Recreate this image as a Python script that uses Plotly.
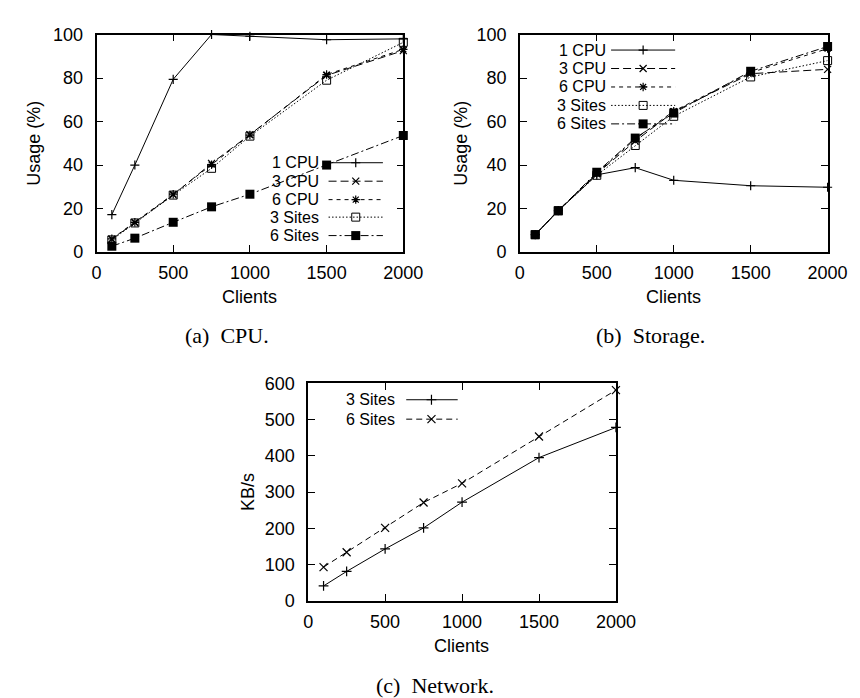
import plotly.graph_objects as go

W, H = 860, 698

clients = [100, 250, 500, 750, 1000, 1500, 2000]

# (a) CPU usage (%)
cpu_1cpu = [17.2, 40.0, 79.4, 100.0, 99.2, 97.6, 98.0]
cpu_3cpu = [5.9, 13.5, 26.3, 40.8, 54.0, 81.2, 92.6]
cpu_6cpu = [6.1, 13.7, 26.6, 40.2, 53.8, 81.6, 93.2]
cpu_3sites = [5.6, 13.4, 26.2, 38.5, 53.3, 79.0, 96.4]
cpu_6sites = [2.7, 6.4, 13.7, 20.8, 26.6, 40.0, 53.6]

# (b) Storage usage (%)
sto_1cpu = [8.0, 19.0, 35.5, 38.8, 33.0, 30.5, 29.8]
sto_3cpu = [8.0, 19.2, 36.0, 51.0, 64.5, 82.0, 84.0]
sto_6cpu = [8.0, 19.2, 36.2, 52.0, 64.8, 82.5, 93.5]
sto_3sites = [8.0, 19.0, 35.3, 49.0, 62.4, 80.5, 88.0]
sto_6sites = [8.0, 19.0, 36.7, 52.4, 63.9, 83.1, 94.5]

# (c) Network (KB/s)
net_3sites = [41, 81, 143, 201, 272, 395, 478]
net_6sites = [93, 134, 201, 271, 324, 453, 581]

series_names = ["1 CPU", "3 CPU", "6 CPU", "3 Sites", "6 Sites"]
net_names = ["3 Sites", "6 Sites"]

x_ticks = [0, 500, 1000, 1500, 2000]
pct_ticks = [0, 20, 40, 60, 80, 100]
net_ticks = [0, 100, 200, 300, 400, 500, 600]

# styles
styles5 = [
    dict(dash="solid", symbol="cross-thin", size=6.5, lw=1.2),
    dict(dash="8px,4px", symbol="x-thin", size=7, lw=1.2),
    dict(dash="4px,4px", symbol="asterisk", size=7, lw=1.2),
    dict(dash="1.5px,2px", symbol="square-open", size=8, lw=1.0),
    dict(dash="8px,3px,2px,3px", symbol="square", size=9, lw=0),
]
styles_net = [
    dict(dash="solid", symbol="cross-thin", size=7, lw=1.2),
    dict(dash="6px,4px", symbol="x-thin", size=8, lw=1.2),
]

SANS = "Liberation Sans, Arial, sans-serif"
SERIF = "Liberation Serif, Times New Roman, serif"
FS = 18
LFS = 16

fig = go.Figure()


def add_series(xref, yref, ys, st, name):
    fig.add_trace(go.Scatter(
        x=clients, y=ys, name=name, mode="lines+markers",
        xaxis=xref, yaxis=yref, showlegend=False, cliponaxis=False,
        line=dict(color="black", width=1, dash=st["dash"]),
        marker=dict(symbol=st["symbol"], size=st["size"], color="black",
                    line=dict(color="black", width=st["lw"])),
    ))


for ys, st, nm in zip([cpu_1cpu, cpu_3cpu, cpu_6cpu, cpu_3sites, cpu_6sites], styles5, series_names):
    add_series("x", "y", ys, st, nm)
for ys, st, nm in zip([sto_1cpu, sto_3cpu, sto_6cpu, sto_3sites, sto_6sites], styles5, series_names):
    add_series("x2", "y2", ys, st, nm)
for ys, st, nm in zip([net_3sites, net_6sites], styles_net, net_names):
    add_series("x3", "y3", ys, st, nm)


def px_dom(a, b):
    return [a / W, b / W]


def py_dom(top, bottom):
    return [1 - bottom / H, 1 - top / H]


axis_common = dict(
    showline=True, linecolor="black", linewidth=1.5, mirror="allticks",
    ticks="inside", ticklen=7, tickwidth=1.2, tickcolor="black",
    showgrid=False, zeroline=False,
    tickfont=dict(family=SANS, size=FS, color="black"),
)

fig.update_layout(
    xaxis=dict(domain=px_dom(86, 402), range=[0, 2000], tickvals=x_ticks,
               anchor="y", ticklabelstandoff=4, **axis_common),
    yaxis=dict(domain=py_dom(17, 241), range=[0, 100], tickvals=pct_ticks,
               anchor="x", ticklabelstandoff=8, **axis_common),
    xaxis2=dict(domain=px_dom(522, 839), range=[0, 2000], tickvals=x_ticks,
                anchor="y2", ticklabelstandoff=4, **axis_common),
    yaxis2=dict(domain=py_dom(17, 241), range=[0, 100], tickvals=pct_ticks,
                anchor="x2", ticklabelstandoff=8, **axis_common),
    xaxis3=dict(domain=px_dom(304, 621), range=[0, 2000], tickvals=x_ticks,
                anchor="y3", ticklabelstandoff=4, **axis_common),
    yaxis3=dict(domain=py_dom(376, 600), range=[0, 600], tickvals=net_ticks,
                anchor="x3", ticklabelstandoff=8, **axis_common),
    xaxis4=dict(domain=[0, 1], range=[0, W], visible=False, anchor="y4"),
    yaxis4=dict(domain=[0, 1], range=[H, 0], visible=False, anchor="x4"),
)

annotations = []

# custom gnuplot-style legends: text on the left, sample on the right
def add_legend(names, styles, text_right, x0, x1, xm, rows):
    for nm, st, yy in zip(names, styles, rows):
        annotations.append(dict(
            x=text_right, y=yy, xref="x4", yref="y4", text=nm, showarrow=False,
            xanchor="right", yanchor="middle", borderpad=0,
            font=dict(family=SANS, size=LFS, color="black")))
        fig.add_trace(go.Scatter(
            x=[x0, x1], y=[yy, yy], mode="lines", xaxis="x4", yaxis="y4",
            showlegend=False, hoverinfo="skip", cliponaxis=False,
            line=dict(color="black", width=1, dash=st["dash"])))
        fig.add_trace(go.Scatter(
            x=[xm], y=[yy], mode="markers", xaxis="x4", yaxis="y4",
            showlegend=False, hoverinfo="skip", cliponaxis=False,
            marker=dict(symbol=st["symbol"], size=st["size"], color="black",
                        line=dict(color="black", width=st["lw"]))))


add_legend(series_names, styles5, 316, 325, 381, 353, [149, 168, 187, 205, 224])
add_legend(series_names, styles5, 612, 616, 682, 649, [33, 52, 71, 90, 109])
add_legend(net_names, styles_net, 394, 405, 458, 431, [393, 413])

# axis titles
def text(x, y, s, size=FS, fam=SANS, angle=0):
    annotations.append(dict(
        x=x, y=y, xref="x4", yref="y4", text=s, showarrow=False,
        xanchor="center", yanchor="middle", textangle=angle,
        font=dict(family=fam, size=size, color="black")))


text(244, 287, "Clients")
text(680, 287, "Clients")
text(462, 647, "Clients")
text(22, 129, "Usage (%)", angle=-90)
text(462, 129, "Usage (%)", angle=-90)
text(242, 488, "KB/s", angle=-90)

# captions
text(220, 327, "(a)\u00a0\u00a0CPU.", size=22, fam=SERIF)
text(657, 327, "(b)\u00a0\u00a0Storage.", size=22, fam=SERIF)
text(435, 687, "(c)\u00a0\u00a0Network.", size=22, fam=SERIF)

fig.update_layout(
    width=W, height=H,
    margin=dict(l=0, r=0, t=0, b=0),
    paper_bgcolor="white", plot_bgcolor="rgba(0,0,0,0)",
    showlegend=False,
    annotations=annotations,
)

fig.write_html("out.html")
